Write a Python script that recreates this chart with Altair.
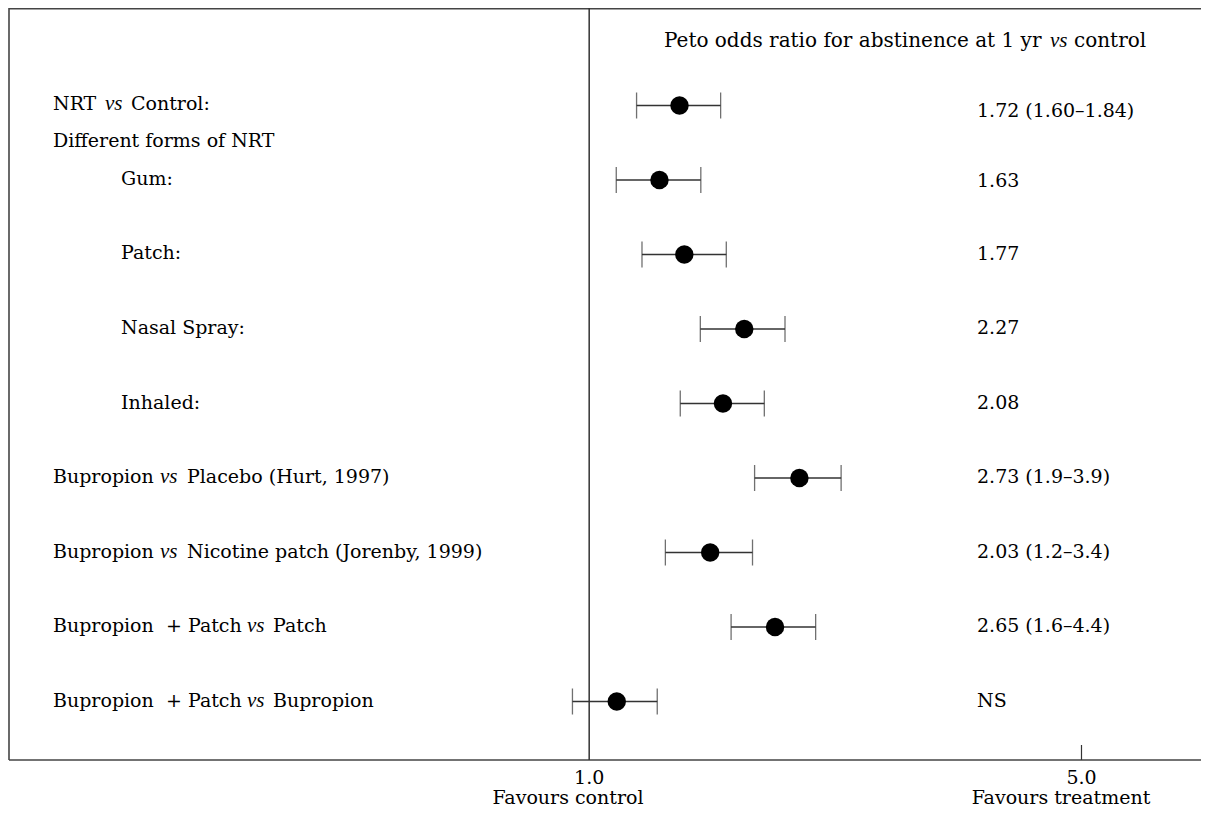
import altair as alt
import pandas as pd

# ---------------- data ----------------
row_pos = [0, 1, 2, 3, 4, 5, 6, 7, 8]
odds_ratio = [1.734, 1.571, 1.773, 2.260, 2.087, 2.708, 1.983, 2.510, 1.224]
ci_low = [1.385, 1.220, 1.429, 1.903, 1.740, 2.344, 1.619, 2.153, 0.864]
ci_high = [2.068, 1.907, 2.114, 2.591, 2.423, 3.047, 2.327, 2.840, 1.553]
value_labels = ["1.72 (1.60\u20131.84)", "1.63", "1.77", "2.27", "2.08",
                "2.73 (1.9\u20133.9)", "2.03 (1.2\u20133.4)", "2.65 (1.6\u20134.4)", "NS"]
x_tick_values = [1.0, 5.0]
x_tick_labels = ["1.0", "5.0"]
bottom_labels = ["Favours control", "Favours treatment"]

# row label pieces (text, row, italic)
seg_text = ["Peto odds ratio for abstinence at 1 yr", "vs", "control",
            "NRT", "vs", "Control:",
            "Different forms of NRT",
            "Gum:", "Patch:", "Nasal Spray:", "Inhaled:",
            "Bupropion", "vs", "Placebo (Hurt, 1997)",
            "Bupropion", "vs", "Nicotine patch (Jorenby, 1999)",
            "Bupropion", "+ Patch", "vs", "Patch",
            "Bupropion", "+ Patch", "vs", "Bupropion"]
seg_row = [-0.852, -0.852, -0.852,
           0, 0, 0,
           0.49,
           1, 2, 3, 4,
           5, 5, 5,
           6, 6, 6,
           7, 7, 7, 7,
           8, 8, 8, 8]
seg_italic = [False, True, False,
              False, True, False,
              False,
              False, False, False, False,
              False, True, False,
              False, True, False,
              False, False, True, False,
              False, False, True, False]
seg_title = [True, True, True] + [False] * 22

# ---------------- layout (pixels) ----------------
seg_x = [655, 1041, 1065,
         44, 96, 122,
         44,
         112, 112, 112, 112,
         44, 151, 178,
         44, 151, 178,
         44, 157, 238, 264,
         44, 157, 238, 264]
value_nudge_px = [7, 2, 1, 0, 0, 0, 0, 0, 0]
ROW_PX = 74.5
W, H = 1192, 752
FONT = "DejaVu Serif"
IFONT = "Liberation Serif"
FS = 19
DY = -1

df = pd.DataFrame({"row": row_pos, "or": odds_ratio, "lo": ci_low, "hi": ci_high,
                   "val": value_labels,
                   "vy": [r + n / ROW_PX for r, n in zip(row_pos, value_nudge_px)]})
seg = pd.DataFrame({"text": seg_text, "row": seg_row, "italic": seg_italic,
                    "title": seg_title, "px": seg_x})
ticks_df = pd.DataFrame({"v": x_tick_values, "lab": x_tick_labels})
one = pd.DataFrame({"k": [0]})

xscale = alt.Scale(domain=[-3.714, 5.971], nice=False, zero=False)
yscale = alt.Scale(domain=[-1.3087, 8.7852], reverse=True, nice=False, zero=False)
Y = alt.Y("row:Q", scale=yscale, axis=None)
LINE = "#333"
FRAME = "#444"

frame_top = alt.Chart(one).mark_rule(color=FRAME, strokeWidth=1.6).encode(
    x=alt.value(0), x2=alt.value(W), y=alt.value(0.8))
frame_bottom = alt.Chart(one).mark_rule(color=FRAME, strokeWidth=1.6).encode(
    x=alt.value(0), x2=alt.value(W), y=alt.value(H))
frame_left = alt.Chart(one).mark_rule(color=FRAME, strokeWidth=1.6).encode(
    x=alt.value(0), y=alt.value(0), y2=alt.value(H))

vline = alt.Chart(one).mark_rule(color=LINE, strokeWidth=1.5).encode(
    x=alt.XDatum(1.0, scale=xscale, axis=None), y=alt.value(0), y2=alt.value(H))

tick5 = alt.Chart(one).mark_rule(color=LINE, strokeWidth=1.2).encode(
    x=alt.XDatum(5.0, scale=xscale, axis=None),
    y=alt.value(H - 15), y2=alt.value(H))

base = alt.Chart(df)
ci = base.mark_rule(color=LINE, strokeWidth=1.5).encode(
    x=alt.X("lo:Q", scale=xscale, axis=None), x2="hi:Q", y=Y)
cap_lo = base.mark_tick(orient="vertical", size=26, thickness=1.3, color=LINE).encode(
    x=alt.X("lo:Q", scale=xscale, axis=None), y=Y)
cap_hi = base.mark_tick(orient="vertical", size=26, thickness=1.3, color=LINE).encode(
    x=alt.X("hi:Q", scale=xscale, axis=None), y=Y)
pts = base.mark_circle(size=340, color="black", opacity=1).encode(
    x=alt.X("or:Q", scale=xscale, axis=None), y=Y)

vals = base.mark_text(align="left", baseline="middle", font=FONT, fontSize=FS,
                      color="black", dy=DY).encode(
    x=alt.value(968), y=alt.Y("vy:Q", scale=yscale, axis=None), text="val:N")

segs = alt.Chart(seg)
normal = segs.transform_filter("!datum.italic && !datum.title").mark_text(
    align="left", baseline="middle", font=FONT, fontSize=FS, color="black", dy=DY).encode(
    x=alt.X("px:Q", scale=None, axis=None), y=Y, text="text:N")
title_n = segs.transform_filter("!datum.italic && datum.title").mark_text(
    align="left", baseline="middle", font=FONT, fontSize=20, color="black", dy=DY).encode(
    x=alt.X("px:Q", scale=None, axis=None), y=Y, text="text:N")
ital = segs.transform_filter("datum.italic").mark_text(
    align="left", baseline="middle", font=IFONT, fontSize=21, fontStyle="italic",
    color="black", dy=DY).encode(
    x=alt.X("px:Q", scale=None, axis=None), y=Y, text="text:N")

tick_labels = alt.Chart(ticks_df).mark_text(
    align="center", baseline="middle", font=FONT, fontSize=FS, color="black", dy=DY).encode(
    x=alt.X("v:Q", scale=xscale, axis=None), y=alt.value(771), text="lab:N")

fav_c = alt.Chart(one).mark_text(align="center", baseline="middle", font=FONT, fontSize=FS,
                                 color="black", dy=DY).encode(
    x=alt.value(559), y=alt.value(791), text=alt.datum(bottom_labels[0]))
fav_t = alt.Chart(one).mark_text(align="center", baseline="middle", font=FONT, fontSize=FS,
                                 color="black", dy=DY).encode(
    x=alt.value(1052), y=alt.value(791), text=alt.datum(bottom_labels[1]))

chart = alt.layer(frame_top, frame_bottom, frame_left, vline, tick5, ci, cap_lo, cap_hi, pts,
                  vals, normal, title_n, ital, tick_labels, fav_c, fav_t).properties(
    width=W, height=H,
    autosize=alt.AutoSizeParams(type="none"),
    padding={"left": 1, "top": 0, "right": 0, "bottom": 50},
).configure_view(stroke=None)

chart.save("out.html", embed_options={"renderer": "svg", "actions": False})
